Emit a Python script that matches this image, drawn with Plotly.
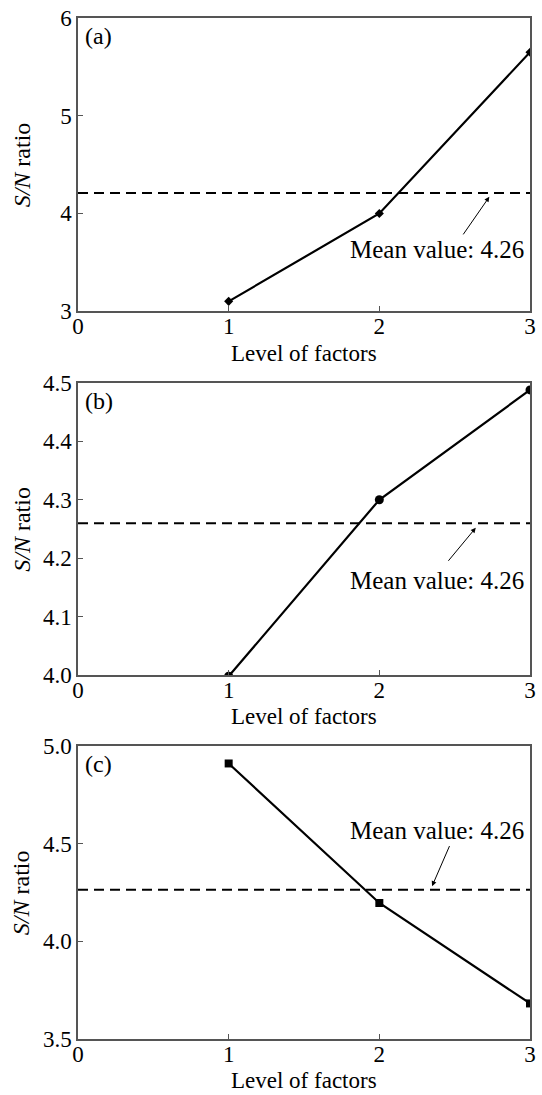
import plotly.graph_objects as go

# ---- data ----
levels = [1, 2, 3]
sn_a = [3.10, 4.00, 5.65]
sn_b = [3.998, 4.30, 4.488]
sn_c = [4.91, 4.196, 3.682]
mean_a = 4.21   # drawn position of mean line in panel (a)
mean_b = 4.26
mean_c = 4.264
mean_label = "Mean value: 4.26"
panel_labels = ["(a)", "(b)", "(c)"]
x_ticks = [0, 1, 2, 3]
y_ticks_a = [3, 4, 5, 6]
y_ticks_b = [4.0, 4.1, 4.2, 4.3, 4.4, 4.5]
y_ticks_c = [3.5, 4.0, 4.5, 5.0]
y_ranges = [[3, 6], [4.0, 4.5], [3.5, 5.0]]
# arrow (tail -> head) and label centre, in data coordinates
arrows = [
    dict(tail=(2.55, 3.77), head=(2.73, 4.17), text=(2.38, 3.63)),
    dict(tail=(2.45, 4.193), head=(2.64, 4.252), text=(2.38, 4.162)),
    dict(tail=(2.47, 4.495), head=(2.35, 4.282), text=(2.38, 4.566)),
]

FONT = "Liberation Serif, Times New Roman, DejaVu Serif, serif"
W, H = 542, 1095
ML, MR, MT, MB = 78, 6, 15, 56
PH = H - MT - MB
PW = W - ML - MR

def dom(top_px, bot_px):
    return [1 - (bot_px - MT) / PH, 1 - (top_px - MT) / PH]

domains = [dom(15, 309), dom(381, 674), dom(745, 1039)]

fig = go.Figure()
series = [sn_a, sn_b, sn_c]
means = [mean_a, mean_b, mean_c]
symbols = ["diamond", "circle", "square"]
msizes = [7, 9, 8]
yticks = [y_ticks_a, y_ticks_b, y_ticks_c]
yfmt = ["d", ".1f", ".1f"]

for i in range(3):
    xa = "x" if i == 0 else f"x{i+1}"
    ya = "y" if i == 0 else f"y{i+1}"
    fig.add_trace(go.Scatter(
        x=[0, 3], y=[means[i], means[i]], mode="lines",
        line=dict(color="black", width=2, dash="10px,6px"),
        xaxis=xa, yaxis=ya, showlegend=False, hoverinfo="skip"))
    fig.add_trace(go.Scatter(
        x=levels, y=series[i], mode="lines+markers",
        line=dict(color="black", width=2.2),
        marker=dict(symbol=symbols[i], size=msizes[i], color="black"),
        xaxis=xa, yaxis=ya, showlegend=False))

axis_common = dict(showline=True, mirror=True, linecolor="#555", linewidth=1.5,
                   ticks="inside", ticklen=5, tickcolor="#555", tickwidth=1.2,
                   showgrid=False, zeroline=False,
                   tickfont=dict(family=FONT, size=23, color="black"))

layout = dict(width=W, height=H, margin=dict(l=ML, r=MR, t=MT, b=MB),
              plot_bgcolor="white", paper_bgcolor="white", showlegend=False,
              font=dict(family=FONT, color="black"))
annotations = []
for i in range(3):
    sx = "" if i == 0 else str(i + 1)
    layout[f"xaxis{sx}"] = dict(axis_common, domain=[0, 1], range=[0, 3],
                                tickvals=x_ticks, anchor=f"y{sx}",
                                ticklabelstandoff=-6)
    layout[f"yaxis{sx}"] = dict(axis_common, domain=domains[i], range=y_ranges[i],
                                tickvals=yticks[i], tickformat=yfmt[i],
                                anchor=f"x{sx}")
    xr, yr = f"x{sx}", f"y{sx}"
    # x title
    annotations.append(dict(text="Level of factors", xref=f"x{sx} domain", yref=f"y{sx} domain",
                            x=0.5, y=-0.143, xanchor="center", yanchor="middle",
                            showarrow=False, font=dict(family=FONT, size=23, color="black")))
    # y title
    annotations.append(dict(text="<i>S/N</i> ratio", xref="paper", yref=f"y{sx} domain",
                            x=(21 - ML) / PW, y=0.5, xanchor="center", yanchor="middle",
                            textangle=-90, showarrow=False,
                            font=dict(family=FONT, size=24, color="black")))
    # panel label
    annotations.append(dict(text=panel_labels[i], xref=f"x{sx} domain", yref=f"y{sx} domain",
                            x=0.01, y=0.99, xanchor="left", yanchor="top",
                            showarrow=False, font=dict(family=FONT, size=24, color="black")))
    a = arrows[i]
    annotations.append(dict(text="", x=a["head"][0], y=a["head"][1], xref=xr, yref=yr,
                            ax=a["tail"][0], ay=a["tail"][1], axref=xr, ayref=yr,
                            showarrow=True, arrowhead=2, arrowsize=1, arrowwidth=1,
                            arrowcolor="black"))
    annotations.append(dict(text=mean_label, x=a["text"][0], y=a["text"][1], xref=xr, yref=yr,
                            xanchor="center", yanchor="middle", showarrow=False,
                            font=dict(family=FONT, size=25, color="black")))

layout["annotations"] = annotations
fig.update_layout(**layout)
fig.write_html("out.html")
